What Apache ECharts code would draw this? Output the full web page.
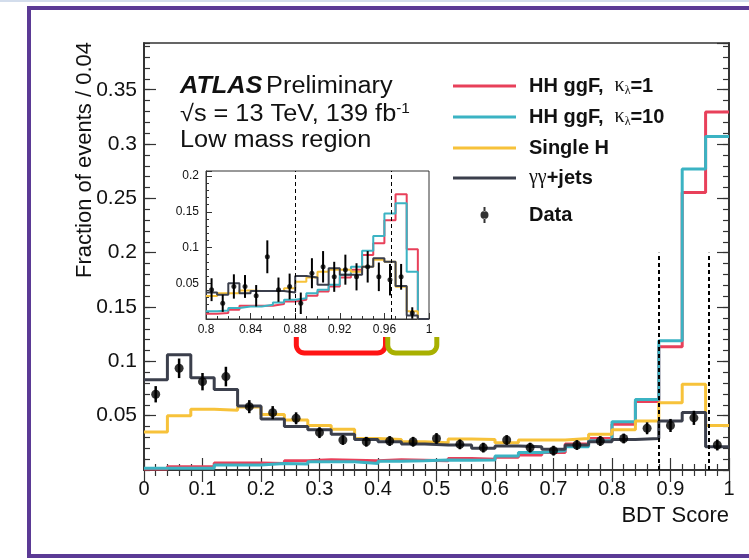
<!DOCTYPE html>
<html>
<head>
<meta charset="utf-8">
<script src="https://cdn.jsdelivr.net/npm/echarts@6/dist/echarts.min.js"></script>
<style>
html, body { margin: 0; padding: 0; background: #fff; }
#chart { width: 749px; height: 560px; }
</style>
</head>
<body>
<div id="chart"></div>
<script>
// Main plot: 25 bins of 0.04 in BDT score
const mainStart = 0;
const mainWidth = 0.04;
const hhKl1 = [0.001, 0.003, 0.003, 0.0065, 0.0065, 0.006, 0.0085, 0.0095, 0.009, 0.0085, 0.0095, 0.009, 0.0085,
  0.0105, 0.0098, 0.0117, 0.0138, 0.016, 0.024, 0.029, 0.042, 0.063, 0.1135, 0.2553, 0.3294];
const hhKl10 = [0.0015, 0.0015, 0.0015, 0.0045, 0.0045, 0.006, 0.0055, 0.0075, 0.0075, 0.006, 0.008, 0.0085, 0.0092,
  0.009, 0.0092, 0.0129, 0.016, 0.0178, 0.0215, 0.027, 0.0445, 0.065, 0.119, 0.277, 0.307];
const singleH = [0.035, 0.050, 0.056, 0.055, 0.058, 0.051, 0.046, 0.041, 0.0375, 0.029, 0.028, 0.026, 0.025,
  0.0285, 0.028, 0.025, 0.0275, 0.0275, 0.029, 0.033, 0.037, 0.045, 0.062, 0.079, 0.041];
const diphoton = [0.083, 0.106, 0.085, 0.074, 0.059, 0.047, 0.040, 0.037, 0.033, 0.028, 0.026, 0.024, 0.023,
  0.023, 0.020, 0.022, 0.0215, 0.019, 0.023, 0.026, 0.028, 0.029, 0.045, 0.053, 0.0215];
const dataVals = [0.0697, 0.0936, 0.0813, 0.086, 0.0583, 0.0528, 0.0476, 0.0344, 0.0276, 0.026, 0.0267, 0.026, 0.029,
  0.0236, 0.0206, 0.0276, 0.0206, 0.0178, 0.023, 0.0267, 0.029, 0.0384, 0.041, 0.048, 0.023];
const dataErrs = [0.0075, 0.009, 0.008, 0.009, 0.006, 0.006, 0.0055, 0.005, 0.0045, 0.0045, 0.0045, 0.0045, 0.005,
  0.0045, 0.0045, 0.0045, 0.0045, 0.0045, 0.0045, 0.0045, 0.0045, 0.0055, 0.006, 0.0065, 0.005];

// Inset: 20 bins of 0.01 between 0.8 and 1
const insetStart = 0.8;
const insetWidth = 0.01;
const insetKl1 = [0.0074, 0.0084, 0.013, 0.0186, 0.0186, 0.0186, 0.021, 0.0246, 0.027, 0.0325, 0.0385, 0.0455, 0.058,
  0.069, 0.0896, 0.106, 0.138, 0.1745, 0.0975, 0];
const insetKl10 = [0.0107, 0.012, 0.0153, 0.0176, 0.0176, 0.020, 0.023, 0.027, 0.029, 0.036, 0.041, 0.048, 0.062,
  0.073, 0.0956, 0.116, 0.1475, 0.162, 0.066, 0];
const insetSingleH = [0.032, 0.036, 0.036, 0.040, 0.039, 0.039, 0.039, 0.043, 0.052, 0.058, 0.066, 0.069, 0.069,
  0.066, 0.073, 0.083, 0.080, 0.045, 0.011, 0];
const insetDiphoton = [0.037, 0.034, 0.050, 0.036, 0.039, 0.039, 0.039, 0.037, 0.060, 0.058, 0.048, 0.071, 0.062,
  0.062, 0.073, 0.085, 0.080, 0.046, 0.005, 0];
const insetData = [0.041, 0.022, 0.0455, 0.0455, 0.0325, 0.087, 0.041, 0.0455, 0.022, 0.064, 0.073, 0.059, 0.069,
  0.059, 0.073, 0.059, 0.055, 0.059, 0.0084];
const insetErrs = [0.016, 0.012, 0.017, 0.016, 0.015, 0.023, 0.017, 0.018, 0.015, 0.021, 0.022, 0.021, 0.021,
  0.019, 0.022, 0.02, 0.022, 0.018, 0.008];

const categoryCuts = [0.88, 0.966];
const bracketRanges = [[0.881, 0.961, '#ff1414'], [0.963, 1.007, '#a8b000']];

const names = ['HH ggF, κλ=1', 'HH ggF, κλ=10', 'Single H', 'γγ+jets', 'Data'];
const colors = ['#e8405a', '#3bb3c3', '#f7c23a', '#3b3f4c'];
const legendText = {
  'HH ggF, κλ=1': '{g|}{b|HH ggF,  }{k|κ}{s|λ}{b|=1}',
  'HH ggF, κλ=10': '{g|}{b|HH ggF,  }{k|κ}{s|λ}{b|=10}',
  'Single H': '{g|}{b|Single H}',
  'γγ+jets': '{g|}{k|γγ}{b|+jets}',
  'Data': '{g|}{b|Data}'
};

function stepPoints(values, start, width) {
  const pts = values.map((v, i) => [start + i * width, v]);
  pts.push([start + values.length * width, values[values.length - 1]]);
  return pts;
}

function centers(n, start, width) {
  return Array.from({ length: n }, (_, i) => start + (i + 0.5) * width);
}

function histSeries(name, values, start, width, color, lw, xi, yi) {
  return {
    type: 'line', name: name, step: 'end', showSymbol: false, symbol: 'none',
    xAxisIndex: xi, yAxisIndex: yi, silent: true,
    data: stepPoints(values, start, width),
    lineStyle: { color: color, width: lw }, itemStyle: { color: color }
  };
}

function errorBars(name, values, errs, start, width, lw, xi, yi) {
  const xs = centers(values.length, start, width);
  return {
    type: 'custom', name: name, xAxisIndex: xi, yAxisIndex: yi, silent: true, z: 6,
    data: values.map((v, i) => [xs[i], v - errs[i], v + errs[i]]),
    renderItem: function (params, api) {
      const lo = api.coord([api.value(0), api.value(1)]);
      const hi = api.coord([api.value(0), api.value(2)]);
      return { type: 'line', shape: { x1: lo[0], y1: lo[1], x2: hi[0], y2: hi[1] }, style: { stroke: '#000', lineWidth: lw } };
    }
  };
}

function dataPoints(name, values, start, width, size, xi, yi) {
  const xs = centers(values.length, start, width);
  return {
    type: 'scatter', name: name, xAxisIndex: xi, yAxisIndex: yi, silent: true, z: 7,
    symbolSize: size, itemStyle: { color: '#000' },
    data: values.map((v, i) => [xs[i], v])
  };
}

function cutLines(top, lw) {
  return {
    silent: true, symbol: 'none', label: { show: false },
    lineStyle: { color: '#000', type: [4, 3], width: lw },
    data: categoryCuts.map(c => [{ coord: [c, 0] }, { coord: [c, top] }])
  };
}

const tickLine = { color: '#333', width: 1.2 };
const axisLine = { show: true, lineStyle: { color: '#333', width: 1.5 } };
const mainLabel = { fontSize: 21, color: '#111', fontFamily: 'Liberation Sans' };
const insetLabel = { fontSize: 12, color: '#111', fontFamily: 'Liberation Sans' };

function yAx(grid, pos, max, interval, len, label) {
  return {
    type: 'value', gridIndex: grid, position: pos, min: 0, max: max, interval: interval,
    axisLine: axisLine, splitLine: { show: false },
    axisTick: { inside: true, length: len, lineStyle: tickLine },
    axisLabel: label ? Object.assign({ margin: 7, showMinLabel: false, showMaxLabel: false }, label) : { show: false }
  };
}

const chart = echarts.init(document.getElementById('chart'));

const legendRich = {
  g: { width: 8 },
  b: { fontFamily: 'Liberation Sans', fontWeight: 'bold', fontSize: 20, color: '#111', lineHeight: 22 },
  k: { fontFamily: 'Liberation Serif', fontSize: 20, color: '#111', lineHeight: 22 },
  s: { fontFamily: 'Liberation Serif', fontSize: 12, color: '#111', verticalAlign: 'bottom' }
};

const option = {
  animation: false,
  backgroundColor: '#fff',
  grid: [
    { left: 144, top: 43, width: 585, height: 427, show: true, borderColor: '#333', borderWidth: 1.5 },
    { left: 206, top: 171, width: 223, height: 148, show: true, borderColor: '#333', borderWidth: 1, backgroundColor: '#fff' }
  ],
  xAxis: [
    {
      type: 'value', gridIndex: 0, position: 'bottom', min: 0, max: 1, interval: 0.1,
      axisLine: axisLine, splitLine: { show: false },
      axisTick: { inside: true, length: 12, lineStyle: tickLine },
      minorTick: { show: true, splitNumber: 5, length: 6, lineStyle: tickLine },
      axisLabel: Object.assign({ margin: 9 }, mainLabel, { fontSize: 20 })
    },
    {
      type: 'value', gridIndex: 0, position: 'top', min: 0, max: 1, interval: 0.1,
      axisLine: axisLine, splitLine: { show: false },
      axisTick: { inside: true, length: 12, lineStyle: tickLine },
      minorTick: { show: true, splitNumber: 5, length: 6, lineStyle: tickLine },
      axisLabel: { show: false }
    },
    {
      type: 'value', gridIndex: 1, position: 'bottom', min: 0.8, max: 1, interval: 0.04,
      axisLine: { lineStyle: { color: '#333', width: 1 } }, splitLine: { show: false },
      axisTick: { inside: true, length: 6, lineStyle: { color: '#333', width: 1 } },
      minorTick: { show: true, splitNumber: 4, length: 3, lineStyle: { color: '#333', width: 1 } },
      axisLabel: Object.assign({ margin: 5 }, insetLabel)
    }
  ],
  yAxis: [
    yAx(0, 'left', 0.393, 0.05, 12, mainLabel),
    yAx(0, 'left', 0.393, 0.01, 6, null),
    yAx(0, 'right', 0.393, 0.05, 12, null),
    yAx(0, 'right', 0.393, 0.01, 6, null),
    Object.assign(yAx(1, 'left', 0.207, 0.05, 6, insetLabel), {
      axisLine: { lineStyle: { color: '#333', width: 1 } },
      axisTick: { inside: true, length: 6, lineStyle: { color: '#333', width: 1 } },
      minorTick: { show: true, splitNumber: 5, length: 3, lineStyle: { color: '#333', width: 1 } }
    })
  ],
  legend: [
    {
      data: names.slice(0, 4).map(n => ({ name: n, icon: 'rect' })),
      orient: 'vertical', left: 448, top: 71, itemWidth: 63, itemHeight: 3, itemGap: 10,
      selectedMode: false, formatter: n => legendText[n], textStyle: { rich: legendRich }
    },
    {
      data: [{
        name: 'Data',
        icon: 'path://M0,0 L0,0 M63,16 L63,16 M30.5,0 h2 v4.5 h-2 z M30.5,11.5 h2 v4.5 h-2 z M27.5,8 a4,4 0 1,0 8,0 a4,4 0 1,0 -8,0 z'
      }],
      orient: 'vertical', left: 448, top: 200, itemWidth: 63, itemHeight: 16,
      selectedMode: false, formatter: n => legendText[n], textStyle: { rich: legendRich }
    }
  ],
  series: [
    histSeries(names[0], hhKl1, mainStart, mainWidth, colors[0], 3, 0, 0),
    histSeries(names[1], hhKl10, mainStart, mainWidth, colors[1], 3, 0, 0),
    histSeries(names[2], singleH, mainStart, mainWidth, colors[2], 3, 0, 0),
    Object.assign(histSeries(names[3], diphoton, mainStart, mainWidth, colors[3], 3, 0, 0), { markLine: cutLines(0.2, 2) }),
    errorBars('dataErr', dataVals, dataErrs, mainStart, mainWidth, 2.5, 0, 0),
    dataPoints('Data', dataVals, mainStart, mainWidth, 9, 0, 0),
    histSeries('in1', insetKl1, insetStart, insetWidth, colors[0], 2, 2, 4),
    histSeries('in10', insetKl10, insetStart, insetWidth, colors[1], 2, 2, 4),
    histSeries('inH', insetSingleH, insetStart, insetWidth, colors[2], 2, 2, 4),
    Object.assign(histSeries('inGG', insetDiphoton, insetStart, insetWidth, colors[3], 2, 2, 4), { markLine: cutLines(0.207, 1) }),
    errorBars('inErr', insetData, insetErrs, insetStart, insetWidth, 2, 2, 4),
    dataPoints('inData', insetData, insetStart, insetWidth, 5, 2, 4)
  ]
};

chart.setOption(option);

const labelFont = { fontFamily: 'Liberation Sans', fontSize: 23, fill: '#111' };
const texts = [
  {
    type: 'rect', id: 'topStrip', shape: { x: 0, y: 0, width: 749, height: 2 },
    style: { fill: '#d3ddec' }, silent: true
  },
  {
    type: 'rect', id: 'frame', shape: { x: 29, y: 8, width: 760, height: 548 },
    style: { fill: null, stroke: '#5b3a95', lineWidth: 4 }, silent: true
  },
  {
    type: 'text', id: 't1', x: 180, y: 87, scaleX: 1.1,
    style: {
      text: '{a|ATLAS} {p|Preliminary}', verticalAlign: 'middle', textVerticalAlign: 'middle',
      rich: {
        a: Object.assign({}, labelFont, { fontWeight: 'bold', fontStyle: 'italic' }),
        p: labelFont
      }
    }
  },
  {
    type: 'text', id: 't2', x: 180, y: 115, scaleX: 1.1,
    style: {
      text: '{p|√s = 13 TeV, 139 fb}{u|-1}', verticalAlign: 'middle', textVerticalAlign: 'middle',
      rich: {
        p: Object.assign({}, labelFont, { lineHeight: 26 }),
        u: { fontFamily: 'Liberation Sans', fontSize: 14, fill: '#111', verticalAlign: 'top' }
      }
    }
  },
  {
    type: 'text', id: 't3', x: 180, y: 141, scaleX: 1.1,
    style: {
      text: '{p|Low mass region}', verticalAlign: 'middle', textVerticalAlign: 'middle',
      rich: { p: labelFont }
    }
  },
  {
    type: 'text', id: 'yTitle', x: 85, y: 160, rotation: Math.PI / 2,
    style: {
      text: 'Fraction of events / 0.04', font: '22px "Liberation Sans"', fill: '#111',
      align: 'center', textAlign: 'center', verticalAlign: 'middle', textVerticalAlign: 'middle'
    }
  },
  {
    type: 'text', id: 'xTitle', x: 729, y: 516,
    style: {
      text: 'BDT Score', font: '22px "Liberation Sans"', fill: '#111',
      align: 'right', textAlign: 'right', verticalAlign: 'middle', textVerticalAlign: 'middle'
    }
  }
];

// coloured brackets under the inset, placed in inset x coordinates
function bracketPoints(x1, x2, yTop, yBot, r) {
  const pts = [[x1, yTop], [x1, yBot - r]];
  for (let k = 1; k <= 8; k++) {
    const t = k / 8 * Math.PI / 2;
    pts.push([x1 + r - r * Math.cos(t), yBot - r + r * Math.sin(t)]);
  }
  for (let k = 0; k <= 8; k++) {
    const t = k / 8 * Math.PI / 2;
    pts.push([x2 - r + r * Math.sin(t), yBot - r + r * Math.cos(t)]);
  }
  pts.push([x2, yTop]);
  return pts;
}

const brackets = bracketRanges.map((r, i) => {
  const x1 = chart.convertToPixel({ xAxisIndex: 2 }, r[0]);
  const x2 = chart.convertToPixel({ xAxisIndex: 2 }, r[1]);
  return {
    type: 'polyline', id: 'br' + i, silent: true,
    shape: { points: bracketPoints(x1, x2, 337, 353, 8) },
    style: { fill: null, stroke: r[2], lineWidth: 5 }
  };
});

chart.setOption({ graphic: { elements: texts.concat(brackets) } });
</script>
</body>
</html>
